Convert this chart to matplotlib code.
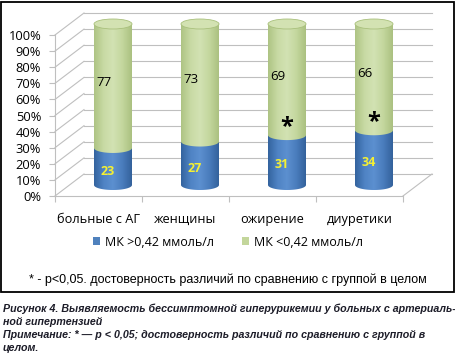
import numpy as np
import matplotlib
matplotlib.use("Agg")
import matplotlib.pyplot as plt
from matplotlib import transforms
from matplotlib.patches import Polygon, Ellipse, Patch, Rectangle
from matplotlib.colors import LinearSegmentedColormap

plt.rcParams['font.family'] = ['Open Sans', 'DejaVu Sans']

# Data
categories = ['больные с АГ', 'женщины', 'ожирение', 'диуретики']
high_uric = [23, 27, 31, 34]     # МК >0,42 ммоль/л
low_uric = [77, 73, 69, 66]      # МК <0,42 ммоль/л
significant = [False, False, True, True]
series_names = ['МК >0,42 ммоль/л', 'МК <0,42 ммоль/л']
yticks = list(range(0, 101, 10))

BLUE = '#4f81bd'
GREEN = '#c3d69b'
GRID = '#bfbfbf'

W, H, DPI = 456, 355, 100
fig = plt.figure(figsize=(W / DPI, H / DPI), dpi=DPI)

# front plane of the 3D box in pixels
left_px, right_px, bottom_px, top_px = 55, 403, 196, 35
ax = fig.add_axes([left_px / W, 1 - bottom_px / H,
                   (right_px - left_px) / W, (bottom_px - top_px) / H])
ax.set_xlim(0, len(categories))
ax.set_ylim(0, 100)
ax.patch.set_visible(False)

# depth offsets (pixels)
DX, DY = 29, 22
back = ax.transData + transforms.ScaledTranslation(DX / DPI, DY / DPI, fig.dpi_scale_trans)
mid = ax.transData + transforms.ScaledTranslation(DX / 2 / DPI, DY / 2 / DPI, fig.dpi_scale_trans)

# grid: back wall + left wall diagonals
n = len(categories)
for y in yticks:
    ax.plot([0, n], [y, y], color=GRID, lw=0.8, transform=back, clip_on=False, zorder=1)
    # diagonal from front to back on the left wall
    x0, y0 = ax.transData.transform((0, y))
    ax.plot([x0, x0 + DX], [y0, y0 + DY], color=GRID, lw=0.8,
            transform=None, clip_on=False, zorder=1)
# floor right edge
x0, y0 = ax.transData.transform((n, 0))
ax.plot([x0, x0 + DX], [y0, y0 + DY], color=GRID, lw=0.8, transform=None, clip_on=False, zorder=1)

# axes / ticks
for side in ['top', 'right']:
    ax.spines[side].set_visible(False)
for side in ['left', 'bottom']:
    ax.spines[side].set_color(GRID)
    ax.spines[side].set_linewidth(0.8)
ax.set_yticks(yticks)
ax.set_yticklabels([f'{v}%' for v in yticks], fontsize=9.3)
ax.set_xticks(range(n + 1))
ax.set_xticklabels([])
ax.set_xticks([i + 0.5 for i in range(n)], minor=True)
ax.set_xticklabels(categories, minor=True, fontsize=9.2)
ax.tick_params(axis='x', which='minor', length=0, pad=12)
ax.tick_params(axis='both', which='major', color=GRID, length=4, width=0.8)
ax.tick_params(axis='y', pad=6)

# cylinders
bar_w = 38 / ((right_px - left_px) / n)
ell_h = 10 / ((bottom_px - top_px) / 100)

blue_cmap = LinearSegmentedColormap.from_list('b', ['#34649f', '#4f83c4', '#5c90d0', '#4a7dbd', '#34629c'])
green_cmap = LinearSegmentedColormap.from_list('g', ['#aec484', '#c8daa4', '#d2e2b3', '#c4d79e', '#abc181'])
grad = np.linspace(0, 1, 64).reshape(1, -1)


def segment(cx, y0, y1, cmap, z):
    t = np.linspace(np.pi, 2 * np.pi, 40)
    xs = cx + bar_w / 2 * np.cos(t)
    ys = y0 + ell_h / 2 * np.sin(t)
    pts = list(zip(xs, ys)) + [(cx + bar_w / 2, y1), (cx - bar_w / 2, y1)]
    poly = Polygon(pts, closed=True, transform=mid, facecolor='none', edgecolor='none',
                   zorder=z, clip_on=False)
    ax.add_patch(poly)
    im = ax.imshow(grad, cmap=cmap, aspect='auto', interpolation='bilinear',
                   extent=[cx - bar_w / 2, cx + bar_w / 2, y0 - ell_h, y1],
                   transform=mid, zorder=z)
    im.set_clip_box(fig.bbox)
    im.set_clip_path(poly)
    ax.set_xlim(0, n)
    ax.set_ylim(0, 100)


for i, (hv, lv) in enumerate(zip(high_uric, low_uric)):
    cx = i + 0.5
    segment(cx, 0, hv, blue_cmap, 3)
    segment(cx, hv, hv + lv, green_cmap, 4)
    ax.add_patch(Ellipse((cx, hv + lv), bar_w, ell_h, transform=mid, facecolor='#d3e2b2',
                         edgecolor='#a9c07c', lw=0.6, zorder=5, clip_on=False))
    # value labels
    ax.text(cx - 0.06, hv / 2 - 3, str(hv), transform=mid, ha='center', va='center',
            color='#f5f032', fontsize=9, fontweight='bold', zorder=6)
    ax.text(cx - 0.1, hv + lv / 2 + 2, str(lv), transform=mid, ha='center', va='center',
            color='black', fontsize=9.5, zorder=6)
    if significant[i]:
        ax.text(cx, hv + 5, '*', transform=mid, ha='center', va='center',
                color='black', fontsize=17, fontweight='bold', zorder=6)

# legend
handles = [Patch(facecolor=BLUE, edgecolor='none'), Patch(facecolor=GREEN, edgecolor='none')]
fig.legend(handles, series_names, loc='center', bbox_to_anchor=(228 / W, 1 - 242 / H),
           ncol=2, frameon=False, fontsize=9, handlelength=0.6, handleheight=0.6,
           handletextpad=0.4, columnspacing=2.2)

fig.text(228 / W, 1 - 280 / H, '* - p<0,05. достоверность различий по сравнению с группой в целом',
         ha='center', va='center', fontsize=9, family=['Liberation Sans', 'DejaVu Sans'])

# chart frame
fig.add_artist(Rectangle((1.5 / W, 1 - 292 / H), 452.5 / W, 290.5 / H, transform=fig.transFigure,
                         fill=False, edgecolor='black', lw=1.3))

# caption
cap = dict(ha='left', va='center', fontsize=7.7, fontweight='bold', style='italic',
           color='#1c1c28', family=['Liberation Sans', 'DejaVu Sans'])
fig.text(3 / W, 1 - 309 / H, 'Рисунок 4. Выявляемость бессимптомной гиперурикемии у больных с артериаль-', **cap)
fig.text(3 / W, 1 - 322 / H, 'ной гипертензией', **cap)
fig.text(3 / W, 1 - 335 / H, 'Примечание: * — p < 0,05; достоверность различий по сравнению с группой в', **cap)
fig.text(3 / W, 1 - 348 / H, 'целом.', **cap)

fig.savefig('out.png', dpi=DPI)
